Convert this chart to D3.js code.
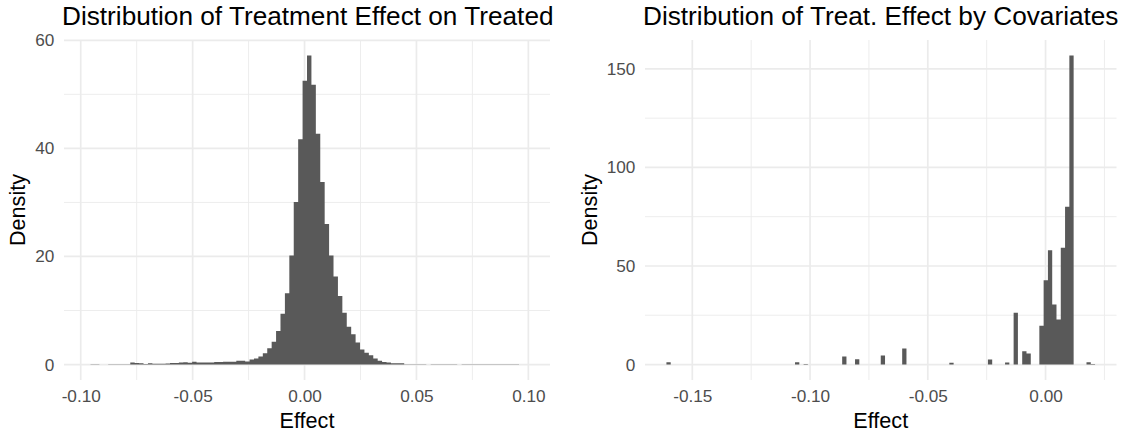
<!DOCTYPE html>
<html>
<head>
<meta charset="utf-8">
<script src="https://cdn.jsdelivr.net/npm/d3@7"></script>
<style>
  body { margin: 0; background: #fff; }
  svg text { font-family: "Liberation Sans", Arial, sans-serif; }
</style>
</head>
<body>
<div id="chart"></div>
<script>
// left histogram: treatment effect on treated (100 bins)
const ateBinMin = -0.0976;
const ateBinWidth = 0.001974;
const ateDensity = [
  0, 0.04, 0.04, 0, 0, 0.04, 0.05, 0.06, 0.06, 0.06,
  0.37, 0.27, 0.25, 0.12, 0.25, 0.15, 0.14, 0.15, 0.18, 0.3,
  0.3, 0.4, 0.43, 0.35, 0.5, 0.4, 0.37, 0.37, 0.37, 0.45,
  0.45, 0.5, 0.5, 0.5, 0.68, 0.68, 0.56, 0.93, 1.1, 1.5,
  2.1, 3.0, 4.2, 6.2, 9.4, 13.2, 20.2, 30.1, 41.7, 52.5,
  57.2, 51.8, 42.7, 33.8, 26.0, 20.2, 16.3, 12.7, 9.6, 7.0,
  5.6, 4.1, 2.8, 2.2, 1.7, 1.1, 0.7, 0.45, 0.4, 0.25,
  0.25, 0.22, 0.07, 0.06, 0.06, 0.05, 0.05, 0, 0.04, 0.04,
  0.04, 0.04, 0.04, 0.04, 0, 0.04, 0.04, 0.04, 0.04, 0.04,
  0.04, 0.04, 0.04, 0.04, 0.04, 0.04, 0.04, 0.04, 0, 0
];
const ateXTicks = [-0.10, -0.05, 0.00, 0.05, 0.10];
const ateXMinor = [-0.075, -0.025, 0.025, 0.075];
const ateYTicks = [0, 20, 40, 60];
const ateYMinor = [10, 30, 50];

// right histogram: treatment effect by covariates (100 bins, only non-empty listed)
const covBinMin = -0.16098;
const covBinWidth = 0.00182;
const covBins = [0, 30, 32, 41, 44, 50, 55, 66, 75, 79, 81, 83, 84,
  87, 88, 89, 90, 91, 92, 93, 94, 98, 99];
const covDensity = [1.2, 1.2, 0.3, 4.1, 2.7, 4.6, 8.1, 0.9, 2.6, 1.0, 26.3, 6.8, 5.6,
  19.7, 42.7, 58.0, 30.5, 22.9, 59.2, 80.0, 156.8, 1.2, 0.3];
const covXTicks = [-0.15, -0.10, -0.05, 0.00];
const covXMinor = [-0.125, -0.075, -0.025, 0.025];
const covYTicks = [0, 50, 100, 150];
const covYMinor = [25, 75, 125];

const titles = ["Distribution of Treatment Effect on Treated",
  "Distribution of Treat. Effect by Covariates"];

const NBINS = 100;
const W = 1126, H = 435;
const PANEL_TOP = 40, PANEL_BOTTOM = 380;

const svg = d3.select("#chart").append("svg")
  .attr("width", W).attr("height", H);

function drawPanel(opts) {
  // dense bin table, empty bins = 0
  const dense = d3.range(NBINS).map(() => 0);
  opts.index.forEach((k, i) => { dense[k] = opts.density[i]; });
  const steps = dense.map((d, k) => ({ x: opts.binMin + k * opts.binWidth, y: d }));
  steps.push({ x: opts.binMin + NBINS * opts.binWidth, y: dense[NBINS - 1] });

  const xMin = opts.binMin, xMax = opts.binMin + NBINS * opts.binWidth;
  const xPad = (xMax - xMin) * 0.05;
  const yMax = d3.max(opts.density);

  const x = d3.scaleLinear()
    .domain([xMin - xPad, xMax + xPad])
    .range([opts.left, opts.right]);
  const y = d3.scaleLinear()
    .domain([-yMax * 0.05, yMax * 1.05])
    .range([PANEL_BOTTOM, PANEL_TOP]);

  const g = svg.append("g");

  // minor grid
  g.selectAll("line.vminor").data(opts.xMinor).enter().append("line")
    .attr("x1", x).attr("x2", x)
    .attr("y1", PANEL_TOP).attr("y2", PANEL_BOTTOM)
    .style("stroke", "#ebebeb").style("stroke-width", 0.9);
  g.selectAll("line.hminor").data(opts.yMinor).enter().append("line")
    .attr("y1", y).attr("y2", y)
    .attr("x1", opts.left).attr("x2", opts.right)
    .style("stroke", "#ebebeb").style("stroke-width", 0.9);
  // major grid
  g.selectAll("line.vmajor").data(opts.xTicks).enter().append("line")
    .attr("x1", x).attr("x2", x)
    .attr("y1", PANEL_TOP).attr("y2", PANEL_BOTTOM)
    .style("stroke", "#ebebeb").style("stroke-width", 1.7);
  g.selectAll("line.hmajor").data(opts.yTicks).enter().append("line")
    .attr("y1", y).attr("y2", y)
    .attr("x1", opts.left).attr("x2", opts.right)
    .style("stroke", "#ebebeb").style("stroke-width", 1.7);

  // histogram as one stepped area so neighbouring bars have no seams
  const area = d3.area()
    .curve(d3.curveStepAfter)
    .x((d) => x(d.x))
    .y0(y(0))
    .y1((d) => y(d.y));
  g.append("path")
    .datum(steps)
    .attr("class", "hist")
    .attr("d", area)
    .style("fill", "#595959");

  // axes
  const xAxis = g.append("g")
    .attr("transform", `translate(0,${PANEL_BOTTOM})`)
    .call(d3.axisBottom(x).tickValues(opts.xTicks).tickSize(0)
      .tickPadding(9.8).tickFormat(d3.format(".2f")));
  const yAxis = g.append("g")
    .attr("transform", `translate(${opts.left},0)`)
    .call(d3.axisLeft(y).tickValues(opts.yTicks).tickSize(0)
      .tickPadding(9.7).tickFormat(d3.format("d")));
  [xAxis, yAxis].forEach((a) => {
    a.select(".domain").remove();
    a.selectAll("text")
      .style("font-size", "17.2px")
      .style("fill", "#4d4d4d")
      .style("font-family", '"Liberation Sans", Arial, sans-serif');
  });
  xAxis.selectAll("text").text((d) => d3.format(".2f")(d).replace("\u2212", "-"));

  // titles
  g.append("text")
    .attr("x", opts.left - 2)
    .attr("y", 25)
    .style("font-size", "26.2px")
    .style("fill", "#000")
    .text(opts.title);
  g.append("text")
    .attr("x", (opts.left + opts.right) / 2)
    .attr("y", 428)
    .attr("text-anchor", "middle")
    .style("font-size", "21.6px")
    .style("fill", "#000")
    .text("Effect");
  g.append("text")
    .attr("transform", `translate(${opts.yTitleX},${(PANEL_TOP + PANEL_BOTTOM) / 2}) rotate(-90)`)
    .attr("text-anchor", "middle")
    .style("font-size", "21.6px")
    .style("fill", "#000")
    .text("Density");
}

drawPanel({
  left: 64, right: 550, yTitleX: 25,
  binMin: ateBinMin, binWidth: ateBinWidth,
  index: ateDensity.map((d, i) => i), density: ateDensity,
  xTicks: ateXTicks, xMinor: ateXMinor, yTicks: ateYTicks, yMinor: ateYMinor,
  title: titles[0]
});
drawPanel({
  left: 645, right: 1116.5, yTitleX: 597,
  binMin: covBinMin, binWidth: covBinWidth,
  index: covBins, density: covDensity,
  xTicks: covXTicks, xMinor: covXMinor, yTicks: covYTicks, yMinor: covYMinor,
  title: titles[1]
});
</script>
</body>
</html>
